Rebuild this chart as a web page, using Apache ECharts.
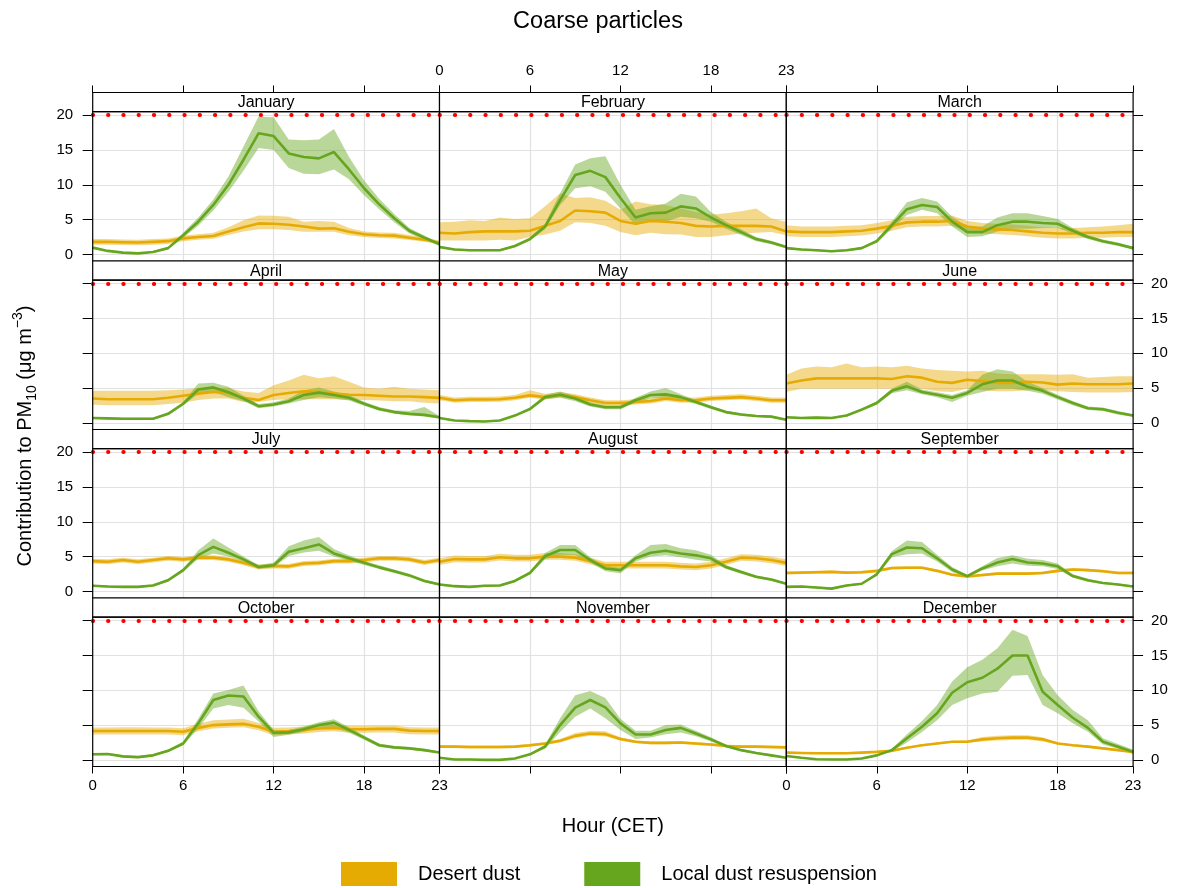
<!DOCTYPE html>
<html><head><meta charset="utf-8">
<script src="https://cdn.jsdelivr.net/npm/echarts@6/dist/echarts.min.js"></script>
<style>html,body{margin:0;padding:0;background:#fff}#c{width:1179px;height:888px}</style>
</head><body><div id="c"></div>
<script>
// ---------------- data ----------------
const hours = [0,1,2,3,4,5,6,7,8,9,10,11,12,13,14,15,16,17,18,19,20,21,22,23];
const months = ['January','February','March','April','May','June','July','August','September','October','November','December'];
const xTickHours = [0,6,12,18,23];
const yTicks = [0,5,10,15,20];
const limitValue = 20;
const seriesNames = ['Desert dust','Local dust resuspension'];

const janDesert   = [1.8,1.8,1.75,1.7,1.8,1.9,2.3,2.5,2.65,3.3,3.9,4.45,4.4,4.25,4.0,3.7,3.75,3.25,2.9,2.75,2.7,2.4,2.1,1.7];
const janDesertLo = [1.4,1.4,1.35,1.3,1.4,1.5,1.9,2.1,2.25,2.8,3.3,3.6,3.6,3.5,3.25,3.25,3.25,2.75,2.5,2.35,2.3,2.05,1.8,1.45];
const janDesertHi = [2.2,2.2,2.15,2.1,2.2,2.3,2.7,2.9,3.1,3.9,4.9,5.6,5.55,5.4,4.7,4.8,4.7,3.8,3.3,3.15,3.1,2.8,2.45,1.95];
const janLocal    = [0.97,0.5,0.25,0.15,0.35,0.9,2.75,4.7,7.1,10.0,13.6,17.4,17.0,14.5,14.0,13.8,14.7,12.2,9.5,7.2,5.2,3.4,2.4,1.45];
const janLocalLo  = [0.8,0.4,0.15,0.05,0.25,0.75,2.4,4.1,6.3,9.0,12.0,15.3,15.0,12.4,11.6,11.5,12.2,10.8,8.5,6.5,4.6,3.0,2.1,1.25];
const janLocalHi  = [1.1,0.6,0.35,0.25,0.45,1.05,3.1,5.3,7.9,11.2,15.5,19.8,19.7,16.5,16.4,16.5,18.0,14.0,10.6,8.0,5.8,3.8,2.7,1.65];

const febDesert   = [3.1,3.0,3.2,3.3,3.3,3.3,3.4,4.1,4.8,6.3,6.2,6.0,4.8,4.4,4.8,4.7,4.5,4.1,4.0,4.1,4.1,4.1,4.0,3.3];
const febDesertLo = [2.0,2.0,2.0,2.0,2.1,2.0,2.5,2.85,3.4,4.6,4.5,4.1,3.2,2.75,3.1,2.9,2.85,2.5,2.5,2.75,3.0,3.1,3.2,2.75];
const febDesertHi = [4.6,4.7,4.9,4.8,5.3,5.1,5.2,6.9,8.8,8.1,8.2,7.7,6.4,7.6,7.2,7.1,6.6,6.1,5.7,5.9,6.2,6.6,5.2,4.7];
const febLocal    = [1.05,0.7,0.6,0.6,0.6,1.2,2.2,4.0,7.8,11.4,12.0,11.1,8.1,5.3,5.9,6.0,6.9,6.6,5.3,4.2,3.2,2.2,1.7,1.05];
const febLocalLo  = [0.85,0.55,0.45,0.45,0.45,1.0,1.95,3.6,7.1,9.5,9.8,9.0,6.6,4.2,4.9,4.7,5.4,5.2,4.7,3.7,2.8,1.9,1.45,0.85];
const febLocalHi  = [1.25,0.85,0.75,0.75,0.75,1.4,2.45,4.4,8.8,12.9,13.8,14.1,10.0,6.4,6.9,7.3,8.7,8.3,6.1,4.7,3.6,2.5,1.95,1.25];

const marDesert   = [3.3,3.2,3.2,3.2,3.3,3.4,3.7,4.1,4.6,4.7,4.7,4.8,4.0,3.7,3.6,3.5,3.3,3.1,3.0,3.0,3.1,3.1,3.2,3.2];
const marDesertLo = [2.6,2.5,2.5,2.5,2.6,2.7,3.0,3.4,3.9,4.0,4.0,4.1,3.3,3.0,2.9,2.8,2.6,2.4,2.3,2.3,2.4,2.4,2.5,2.5];
const marDesertHi = [4.2,4.0,4.0,4.0,4.1,4.2,4.5,4.9,5.4,5.5,5.5,5.6,4.8,4.5,4.4,4.3,4.1,3.9,3.8,3.8,3.9,4.0,4.2,4.4];
const marLocal    = [0.9,0.7,0.6,0.45,0.6,0.9,1.9,4.2,6.5,7.1,6.8,4.7,3.2,3.2,4.2,4.7,4.7,4.5,4.4,3.4,2.5,1.9,1.45,0.9];
const marLocalLo  = [0.75,0.55,0.45,0.3,0.45,0.75,1.65,3.7,5.65,6.4,5.9,4.0,2.5,2.6,3.3,3.7,3.7,3.8,3.8,3.0,2.2,1.65,1.2,0.7];
const marLocalHi  = [1.05,0.85,0.75,0.6,0.75,1.05,2.15,4.7,7.5,8.1,7.6,5.4,4.0,4.0,5.3,5.9,5.9,5.5,5.1,3.8,2.8,2.15,1.7,1.1];

const aprDesert   = [3.5,3.4,3.4,3.4,3.4,3.6,3.9,4.2,4.45,4.3,3.6,3.3,4.0,4.3,4.55,4.45,4.2,4.05,4.0,3.9,3.8,3.8,3.7,3.6];
const aprDesertLo = [2.6,2.55,2.55,2.55,2.55,2.7,2.9,3.3,3.5,3.5,3.0,3.0,3.3,3.4,3.4,3.4,3.4,3.3,3.3,3.2,3.1,3.1,2.9,2.8];
const aprDesertHi = [4.6,4.6,4.6,4.6,4.6,4.7,4.8,5.0,5.1,5.0,4.5,4.3,5.4,6.1,6.9,6.4,6.7,5.9,5.1,4.9,5.2,4.9,4.8,4.7];
const aprLocal    = [0.7,0.65,0.6,0.6,0.6,1.3,2.75,4.8,5.1,4.4,3.5,2.4,2.65,3.1,4.0,4.35,4.0,3.6,2.75,2.0,1.55,1.3,1.15,0.8];
const aprLocalLo  = [0.55,0.5,0.45,0.45,0.45,1.1,2.5,4.2,4.45,3.7,3.1,2.1,2.35,2.8,3.3,3.7,3.5,3.2,2.45,1.75,1.3,1.1,0.9,0.6];
const aprLocalHi  = [0.85,0.8,0.75,0.75,0.75,1.5,3.0,5.65,5.75,5.2,3.9,2.7,2.95,3.5,4.7,5.1,4.5,4.0,3.05,2.3,1.8,1.7,2.3,1.0];

const mayDesert   = [3.6,3.25,3.35,3.35,3.4,3.6,3.95,3.7,4.05,3.7,3.25,2.85,2.85,3.0,3.15,3.5,3.25,3.25,3.5,3.6,3.7,3.5,3.25,3.25];
const mayDesertLo = [3.25,2.9,3.0,3.0,3.05,3.25,3.6,3.35,3.7,3.35,2.9,2.5,2.5,2.65,2.8,3.15,2.9,2.9,3.15,3.25,3.35,3.15,2.9,2.9];
const mayDesertHi = [4.0,3.65,3.75,3.75,3.8,4.0,4.7,4.2,4.45,4.1,3.65,3.25,3.25,3.4,3.55,3.9,3.65,3.65,3.9,4.0,4.1,3.9,3.65,3.65];
const mayLocal    = [0.7,0.35,0.25,0.2,0.35,1.05,2.0,3.7,4.05,3.5,2.65,2.25,2.25,3.25,4.0,4.1,3.7,3.0,2.25,1.55,1.2,1.0,0.9,0.45];
const mayLocalLo  = [0.55,0.25,0.15,0.1,0.25,0.9,1.8,3.4,3.6,3.1,2.35,1.95,1.95,2.9,3.55,3.6,3.35,2.7,2.0,1.35,1.0,0.85,0.75,0.3];
const mayLocalHi  = [0.85,0.45,0.35,0.3,0.45,1.2,2.2,4.0,4.5,3.9,2.95,2.55,2.55,3.6,4.5,5.0,4.1,3.3,2.5,1.75,1.4,1.15,1.05,0.6];

const junDesert   = [5.65,6.1,6.4,6.4,6.4,6.4,6.4,6.3,6.7,6.5,5.9,5.75,6.2,6.0,5.75,5.75,5.9,5.8,5.5,5.65,5.55,5.55,5.55,5.65];
const junDesertLo = [4.45,4.9,4.9,4.9,4.9,4.9,4.9,4.9,5.2,4.9,4.55,4.45,4.9,4.7,4.55,4.55,4.7,4.7,4.55,4.45,4.35,4.35,4.35,4.45];
const junDesertHi = [6.9,7.8,8.1,8.0,8.55,8.0,8.1,8.0,8.2,7.8,7.6,7.5,7.4,7.5,7.1,7.0,7.0,7.0,6.9,7.0,6.5,6.6,6.7,6.7];
const junLocal    = [0.8,0.7,0.75,0.7,1.05,1.9,2.85,4.6,5.25,4.45,4.05,3.6,4.3,5.55,6.1,6.1,5.2,4.6,3.7,2.85,2.1,1.95,1.45,1.05];
const junLocalLo  = [0.65,0.55,0.6,0.55,0.9,1.7,2.6,4.25,4.7,4.1,3.7,3.0,3.9,4.45,4.9,4.9,4.6,4.2,3.35,2.55,1.85,1.7,1.2,0.85];
const junLocalHi  = [0.95,0.85,0.9,0.85,1.2,2.1,3.1,4.95,5.9,4.8,4.4,4.0,4.7,6.9,7.7,7.4,5.9,5.0,4.05,3.15,2.35,2.2,1.7,1.25];

const julDesert   = [4.35,4.25,4.5,4.25,4.5,4.75,4.6,4.85,4.85,4.6,4.1,3.5,3.65,3.6,4.0,4.1,4.35,4.35,4.5,4.75,4.75,4.6,4.15,4.5];
const julDesertLo = [4.0,3.9,4.15,3.9,4.15,4.4,4.25,4.5,4.5,4.25,3.75,3.15,3.3,3.25,3.65,3.75,4.0,4.0,4.15,4.4,4.4,4.25,3.8,4.15];
const julDesertHi = [4.7,4.6,4.85,4.6,4.85,5.1,4.95,5.2,5.2,4.95,4.45,3.85,4.0,3.95,4.35,4.45,4.7,4.7,4.85,5.1,5.1,4.95,4.5,4.85];
const julLocal    = [0.8,0.7,0.65,0.65,0.85,1.6,3.05,5.2,6.4,5.55,4.6,3.5,3.75,5.7,6.2,6.75,5.45,4.75,4.1,3.45,2.9,2.3,1.5,1.0];
const julLocalLo  = [0.65,0.55,0.5,0.5,0.7,1.4,2.8,4.7,5.45,5.0,4.3,3.2,3.45,5.1,5.6,5.85,5.0,4.4,3.8,3.2,2.65,2.05,1.3,0.85];
const julLocalHi  = [0.95,0.85,0.8,0.8,1.0,1.8,3.3,5.9,7.6,6.3,5.0,3.8,4.1,6.5,7.3,7.8,6.1,5.15,4.4,3.75,3.15,2.55,1.7,1.2];

const augDesert   = [4.25,4.65,4.6,4.6,4.9,4.75,4.75,5.0,5.0,4.85,4.35,3.75,3.75,3.75,3.75,3.75,3.6,3.5,3.75,4.25,4.85,4.75,4.5,4.1];
const augDesertLo = [3.8,4.2,4.15,4.15,4.45,4.3,4.3,4.55,4.55,4.4,3.9,3.3,3.3,3.3,3.3,3.3,3.15,3.05,3.3,3.8,4.4,4.3,4.05,3.65];
const augDesertHi = [4.75,5.15,5.1,5.1,5.4,5.25,5.25,5.5,5.5,5.35,4.85,4.25,4.25,4.25,4.25,4.25,4.1,4.0,4.25,4.75,5.35,5.25,5.0,4.6];
const augLocal    = [1.0,0.75,0.65,0.8,0.85,1.5,2.65,5.05,5.95,5.95,4.5,3.3,3.05,4.75,5.55,5.85,5.45,5.2,4.75,3.5,2.8,2.1,1.7,1.1];
const augLocalLo  = [0.85,0.6,0.5,0.65,0.7,1.3,2.4,4.6,5.2,5.2,4.1,2.9,2.6,4.3,5.0,5.2,4.9,4.55,4.3,3.2,2.55,1.9,1.5,0.95];
const augLocalHi  = [1.15,0.9,0.8,0.95,1.0,1.7,2.9,5.5,6.65,6.65,4.9,3.7,3.4,5.2,6.65,6.8,6.2,5.9,5.25,3.8,3.05,2.3,1.9,1.25];

const sepDesert   = [2.65,2.7,2.75,2.8,2.7,2.75,2.95,3.35,3.4,3.4,2.95,2.4,2.15,2.35,2.55,2.55,2.55,2.65,2.95,3.15,3.05,2.9,2.65,2.65];
const sepDesertLo = [2.45,2.5,2.55,2.6,2.5,2.55,2.75,3.15,3.2,3.2,2.75,2.2,1.95,2.15,2.35,2.35,2.35,2.45,2.75,2.95,2.85,2.7,2.45,2.45];
const sepDesertHi = [2.85,2.9,2.95,3.0,2.9,2.95,3.15,3.55,3.6,3.6,3.15,2.6,2.35,2.55,2.75,2.75,2.75,2.85,3.15,3.35,3.25,3.1,2.85,2.85];
const sepLocal    = [0.65,0.7,0.55,0.4,0.85,1.1,2.45,5.35,6.3,6.2,4.75,3.15,2.2,3.3,4.15,4.65,4.15,4.0,3.6,2.2,1.6,1.2,1.0,0.7];
const sepLocalLo  = [0.5,0.55,0.4,0.25,0.7,0.95,2.25,4.9,5.35,5.45,4.3,2.8,2.0,3.0,3.6,4.0,3.7,3.6,3.2,1.95,1.4,1.05,0.85,0.55];
const sepLocalHi  = [0.8,0.85,0.7,0.55,1.0,1.25,2.65,5.8,7.3,7.1,5.25,3.5,2.4,3.6,4.8,5.2,4.7,4.5,4.0,2.45,1.8,1.35,1.15,0.85];

const octDesert   = [4.15,4.15,4.15,4.15,4.15,4.15,4.05,4.6,5.0,5.1,5.2,4.75,4.05,4.15,4.3,4.5,4.6,4.4,4.4,4.45,4.45,4.2,4.15,4.15];
const octDesertLo = [3.65,3.65,3.65,3.65,3.65,3.65,3.55,4.1,4.5,4.6,4.7,4.25,3.55,3.65,3.8,4.0,4.1,3.9,3.9,3.95,3.95,3.7,3.65,3.65];
const octDesertHi = [4.65,4.65,4.7,4.7,4.65,4.65,4.55,5.2,5.7,5.8,5.9,5.3,4.6,4.65,4.8,5.0,5.1,4.9,4.9,4.95,4.95,4.7,4.65,4.65];
const octLocal    = [0.8,0.85,0.5,0.4,0.65,1.3,2.35,5.25,8.6,9.25,9.1,6.2,3.9,3.95,4.4,5.0,5.35,4.3,3.2,2.1,1.8,1.65,1.4,1.05];
const octLocalLo  = [0.65,0.7,0.35,0.25,0.5,1.1,2.1,4.5,7.4,7.9,7.5,5.5,3.3,3.6,4.0,4.6,4.6,3.9,2.9,1.85,1.6,1.45,1.2,0.9];
const octLocalHi  = [0.95,1.0,0.65,0.55,0.8,1.5,2.6,5.9,9.55,10.05,10.7,7.0,4.3,4.3,4.8,5.4,5.85,4.7,3.5,2.35,2.0,1.85,1.6,1.2];

const novDesert   = [1.9,1.9,1.85,1.85,1.85,1.9,2.1,2.35,2.75,3.45,3.8,3.7,3.0,2.6,2.45,2.45,2.5,2.35,2.2,2.0,1.9,1.9,1.85,1.8];
const novDesertLo = [1.7,1.7,1.65,1.65,1.65,1.7,1.9,2.15,2.5,3.1,3.45,3.35,2.75,2.4,2.25,2.25,2.3,2.15,2.0,1.8,1.7,1.7,1.65,1.6];
const novDesertHi = [2.1,2.1,2.05,2.05,2.05,2.1,2.3,2.55,3.0,3.85,4.2,4.1,3.25,2.8,2.65,2.65,2.7,2.55,2.4,2.2,2.1,2.1,2.05,2.0];
const novLocal    = [0.3,0.05,0.05,0.0,0.0,0.2,0.8,1.9,5.0,7.5,8.6,7.55,5.25,3.65,3.65,4.3,4.6,3.8,2.95,2.0,1.4,1.0,0.65,0.3];
const novLocalLo  = [0.2,0.0,0.0,0.0,0.0,0.1,0.65,1.6,4.0,6.2,7.4,6.0,4.3,3.0,3.2,3.7,3.95,3.4,2.65,1.8,1.25,0.85,0.5,0.2];
const novLocalHi  = [0.4,0.15,0.15,0.1,0.1,0.3,0.95,2.2,6.0,9.3,9.9,8.9,5.9,4.2,4.2,5.0,5.1,4.2,3.25,2.2,1.55,1.15,0.8,0.4];

const decDesert   = [1.05,1.0,0.95,0.95,0.95,1.05,1.15,1.3,1.75,2.1,2.35,2.6,2.6,2.95,3.1,3.2,3.2,2.95,2.35,2.1,1.9,1.65,1.4,1.15];
const decDesertLo = [0.9,0.85,0.8,0.8,0.8,0.9,1.0,1.15,1.6,1.95,2.2,2.45,2.45,2.65,2.8,2.85,2.9,2.65,2.2,1.95,1.75,1.5,1.25,1.0];
const decDesertHi = [1.2,1.15,1.1,1.1,1.1,1.2,1.3,1.45,1.9,2.25,2.5,2.75,2.8,3.3,3.45,3.55,3.55,3.25,2.5,2.25,2.05,1.8,1.55,1.3];
const decLocal    = [0.55,0.3,0.1,0.05,0.05,0.2,0.65,1.4,3.1,4.75,6.7,9.65,11.15,11.8,13.1,15.0,15.0,9.8,7.9,6.05,4.6,2.6,1.9,1.15];
const decLocalLo  = [0.45,0.2,0.0,0.0,0.0,0.1,0.5,1.2,2.5,4.0,5.7,7.9,8.85,9.55,9.8,12.1,12.2,7.9,6.7,5.25,4.05,2.2,1.6,0.8];
const decLocalHi  = [0.65,0.4,0.2,0.15,0.15,0.3,0.8,1.6,3.7,5.6,7.9,11.25,13.3,14.4,16.05,18.7,17.8,12.2,9.3,7.15,5.7,3.1,2.3,1.5];

// ---------------- layout / style ----------------
const FONT = '"Liberation Sans", Arial, Helvetica, sans-serif';
const DESERT = '#E6AB02', LOCAL = '#66A61E';
const DESERT_BAND = 'rgba(230,171,2,0.45)', LOCAL_BAND = 'rgba(102,166,30,0.45)';
const GRID_COLOR = '#e2e2e2';
const PANEL_LEFT = 92.7, PANEL_W = 346.8;
const STRIP_TOP0 = 92.5, ROW_STEP = 168.5, STRIP_H = 19.2, PANEL_H = 149.3;
const Y_MIN = -0.95, Y_MAX = 20.5;

const panelData = [
  [janDesert,janDesertLo,janDesertHi,janLocal,janLocalLo,janLocalHi],
  [febDesert,febDesertLo,febDesertHi,febLocal,febLocalLo,febLocalHi],
  [marDesert,marDesertLo,marDesertHi,marLocal,marLocalLo,marLocalHi],
  [aprDesert,aprDesertLo,aprDesertHi,aprLocal,aprLocalLo,aprLocalHi],
  [mayDesert,mayDesertLo,mayDesertHi,mayLocal,mayLocalLo,mayLocalHi],
  [junDesert,junDesertLo,junDesertHi,junLocal,junLocalLo,junLocalHi],
  [julDesert,julDesertLo,julDesertHi,julLocal,julLocalLo,julLocalHi],
  [augDesert,augDesertLo,augDesertHi,augLocal,augLocalLo,augLocalHi],
  [sepDesert,sepDesertLo,sepDesertHi,sepLocal,sepLocalLo,sepLocalHi],
  [octDesert,octDesertLo,octDesertHi,octLocal,octLocalLo,octLocalHi],
  [novDesert,novDesertLo,novDesertHi,novLocal,novLocalLo,novLocalHi],
  [decDesert,decDesertLo,decDesertHi,decLocal,decLocalLo,decLocalHi]
];

const grids = [], xAxes = [], yAxes = [], series = [], graphics = [];
const isXTick = (idx) => xTickHours.indexOf(idx) >= 0;

function band(i, lo, hi, color, id) {
  series.push({type:'line', xAxisIndex:i, yAxisIndex:i, stack:id, data:lo.slice(), symbol:'none',
    lineStyle:{opacity:0, width:0}, silent:true, z:2});
  series.push({type:'line', xAxisIndex:i, yAxisIndex:i, stack:id, data:hi.map((v,k)=>v-lo[k]), symbol:'none',
    lineStyle:{opacity:0, width:0}, areaStyle:{color:color, opacity:1}, silent:true, z:2});
}

months.forEach((m, i) => {
  const r = Math.floor(i / 3), c = i % 3;
  const left = PANEL_LEFT + c * PANEL_W;
  const stripTop = STRIP_TOP0 + r * ROW_STEP;
  const top = stripTop + STRIP_H;
  const d = panelData[i];
  grids.push({left:left, top:top, width:PANEL_W, height:PANEL_H, show:false, containLabel:false});
  xAxes.push({
    type:'category', gridIndex:i, data:hours.map(String), boundaryGap:false,
    position: r === 0 ? 'top' : 'bottom', offset: r === 0 ? STRIP_H : 0,
    axisLine:{show:false, onZero:false},
    axisTick:{show: r === 0 || r === 3, interval:isXTick, length:7, lineStyle:{color:'#000', width:1}},
    axisLabel:{show:(r === 0 && c === 1) || (r === 3 && c !== 1), interval:isXTick, fontSize:15,
      color:'#000', fontFamily:FONT, margin: r === 0 ? 14 : 11.5},
    splitLine:{show:true, interval:(idx)=> idx > 0 && idx < 23 && isXTick(idx), lineStyle:{color:GRID_COLOR, width:1.2}}
  });
  yAxes.push({
    type:'value', gridIndex:i, min:Y_MIN, max:Y_MAX, position: c === 2 ? 'right' : 'left',
    axisLine:{show:false, onZero:false},
    axisTick:{show: c !== 1, customValues:yTicks, length:10, lineStyle:{color:'#000', width:1}},
    axisLabel:{show:(c === 0 && r % 2 === 0) || (c === 2 && r % 2 === 1), customValues:yTicks,
      fontSize:15, color:'#000', fontFamily:FONT, margin: c === 0 ? 19.5 : 18},
    splitLine:{show:true, lineStyle:{color:GRID_COLOR, width:1.2}}
  });
  band(i, d[1], d[2], DESERT_BAND, 'd' + i);
  band(i, d[4], d[5], LOCAL_BAND, 'l' + i);
  series.push({type:'line', name:seriesNames[0], xAxisIndex:i, yAxisIndex:i, data:d[0], symbol:'none',
    lineStyle:{color:DESERT, width:2.6}, itemStyle:{color:DESERT}, silent:true, z:3});
  series.push({type:'line', name:seriesNames[1], xAxisIndex:i, yAxisIndex:i, data:d[3], symbol:'none',
    lineStyle:{color:LOCAL, width:2.6}, itemStyle:{color:LOCAL}, silent:true, z:3,
    markLine:{silent:true, symbol:'none', label:{show:false}, animation:false,
      lineStyle:{color:'#ff0000', type:[0.5, 14.77], width:3.8, cap:'round'},
      emphasis:{disabled:true}, data:[{yAxis:limitValue}]}});
  // strip
  graphics.push({type:'rect', silent:true, z:100, shape:{x:left, y:stripTop, width:PANEL_W, height:STRIP_H},
    style:{fill:'#fff', stroke:'#000', lineWidth:1.2}});
  graphics.push({type:'text', silent:true, z:101, x:left + PANEL_W / 2, y:stripTop + STRIP_H / 2 + 0.5,
    style:{text:m, fontSize:16, fontFamily:FONT, fill:'#000', align:'center', verticalAlign:'middle'}});
  // panel border
  graphics.push({type:'rect', silent:true, z:100, shape:{x:left, y:top, width:PANEL_W, height:PANEL_H},
    style:{fill:'none', stroke:'#000', lineWidth:1.2}});
});

graphics.push({type:'text', silent:true, z:101, x:PANEL_LEFT + 1.5 * PANEL_W, y:826,
  style:{text:'Hour (CET)', fontSize:20, fontFamily:FONT, fill:'#000', align:'center', verticalAlign:'middle'}});
graphics.push({type:'text', silent:true, z:101, x:25, y:436, rotation:Math.PI / 2,
  style:{text:'{a|Contribution to PM}{b|10}{a| (μg m}{c|−3}{a|)}', fill:'#000', align:'center', verticalAlign:'middle',
    rich:{a:{fontSize:20, fontFamily:FONT, lineHeight:28, fill:'#000'},
          b:{fontSize:14, fontFamily:FONT, lineHeight:14, verticalAlign:'bottom', fill:'#000'},
          c:{fontSize:14, fontFamily:FONT, lineHeight:14, verticalAlign:'top', fill:'#000'}}}});

const option = {
  animation:false,
  backgroundColor:'#fff',
  title:{text:'Coarse particles', left:593, top:5, textAlign:'center',
    textStyle:{fontFamily:FONT, fontSize:23.5, fontWeight:'normal', color:'#000'}},
  legend:{left:341, top:862, padding:0, itemWidth:56, itemHeight:24, itemGap:64, icon:'rect', selectedMode:false,
    textStyle:{fontFamily:FONT, fontSize:20, color:'#000', padding:[0,0,0,16]},
    data:[{name:seriesNames[0], itemStyle:{color:DESERT}}, {name:seriesNames[1], itemStyle:{color:LOCAL}}]},
  grid:grids, xAxis:xAxes, yAxis:yAxes, series:series, graphic:{elements:graphics}
};
const chart = echarts.init(document.getElementById('c'), null, {renderer:'canvas'});
chart.setOption(option);
</script></body></html>
